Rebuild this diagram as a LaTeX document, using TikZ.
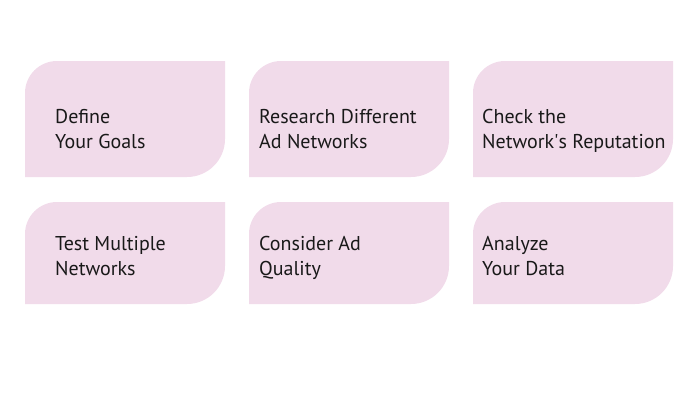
\documentclass[tikz,border=0pt]{standalone}
\usepackage{fontspec}
\setmainfont{PT Sans}
\usepackage{tikz}
\usetikzlibrary{positioning}
\definecolor{petalPink}{RGB}{241, 219, 234}
\definecolor{petalText}{RGB}{25, 25, 25}

\tikzset{
    petal/.style={fill=petalPink, draw=none},
    steplabel/.style={anchor=base west, align=left, inner sep=0pt, text=petalText,
        font=\fontsize{20}{25}\selectfont}
}

% one tile: left x, top y, height, node name, text offset, last baseline, text
\newcommand{\petalbox}[7]{%
    \fill[petal] (#1,#2+#3) -- (#1,#2+32)
        .. controls (#1,#2+14.3) and (#1+14.3,#2) .. (#1+32,#2)
        -- (#1+200,#2) -- (#1+200,#2+#3-38)
        .. controls (#1+200,#2+#3-17) and (#1+183,#2+#3) .. (#1+162,#2+#3)
        -- cycle;
    \node[steplabel] (#4) at (#1+#5,#6) {#7};
}

\begin{document}
\begin{tikzpicture}[x=1pt, y=-1pt]
    \useasboundingbox (0,0) rectangle (700,400);

    % top row
    \petalbox{25}{61}{116}{goals}{30}{148}{Define\\Your Goals}
    \petalbox{249}{61}{116}{research}{10}{148}{Research Different\\Ad Networks}
    \petalbox{473}{61}{116}{reputation}{9}{148}{Check the\\Network\textquotesingle s Reputation}

    % bottom row
    \petalbox{25}{202}{102}{test}{30}{275}{Test Multiple\\Networks}
    \petalbox{249}{202}{102}{quality}{10}{275}{Consider Ad\\Quality}
    \petalbox{473}{202}{102}{analyze}{9}{275}{Analyze\\Your Data}
\end{tikzpicture}
\end{document}
